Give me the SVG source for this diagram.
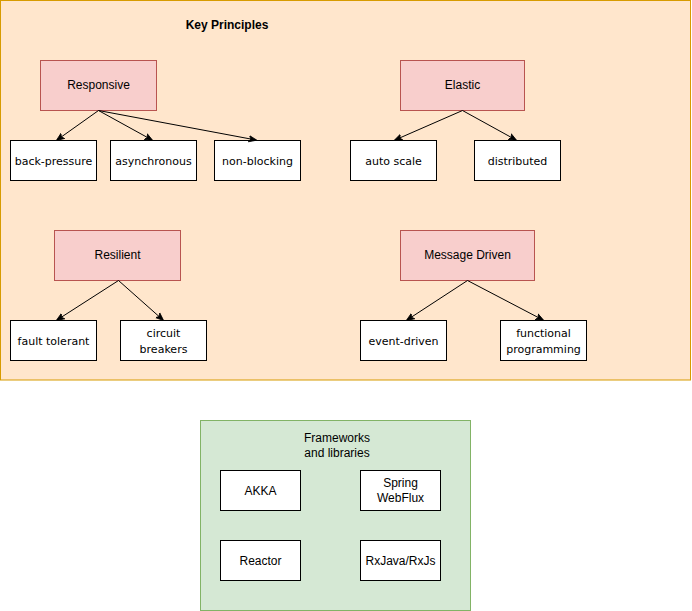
<svg xmlns="http://www.w3.org/2000/svg" width="692" height="611" viewBox="0 0 692 611">
<style>
.outer{fill:#ffe6cc;stroke:#d79b00;stroke-width:1}
.main{fill:#f8cecc;stroke:#b85450;stroke-width:1}
.leaf{fill:#ffffff;stroke:#000000;stroke-width:1}
.green{fill:#d5e8d4;stroke:#82b366;stroke-width:1}
.t{font-family:"Liberation Sans",Arial,sans-serif;font-size:12px;fill:#000;text-anchor:middle}
.c{font-family:"Comic Sans MS","DejaVu Sans",sans-serif;font-size:11px;fill:#000;text-anchor:middle}
.b{font-weight:bold}
.edge{fill:none;stroke:#000;stroke-width:1}
</style>
<defs>
<marker id="arr" viewBox="0 0 10 10" refX="9" refY="5" markerWidth="8" markerHeight="8" orient="auto" markerUnits="userSpaceOnUse">
<path d="M0,1 L10,5 L0,9 L2.5,5 Z" fill="#000" stroke="#000" stroke-width="1"/>
</marker>
</defs>
<g id="key-principles">
<rect class="outer" x="0.5" y="0.5" width="690" height="379.5"/>
<text class="t b" x="227" y="29">Key Principles</text>
</g>
<g id="responsive"><rect class="main" x="40.5" y="60.5" width="116" height="50"/><text class="t" x="98.5" y="89">Responsive</text></g>
<g id="back-pressure"><rect class="leaf" x="10.5" y="140.5" width="86" height="40"/><text class="c" x="53.5" y="164.5">back-pressure</text></g>
<g id="asynchronous"><rect class="leaf" x="110.5" y="140.5" width="86" height="40"/><text class="c" x="153.5" y="164.5">asynchronous</text></g>
<g id="non-blocking"><rect class="leaf" x="214.5" y="140.5" width="86" height="40"/><text class="c" x="257.5" y="164.5">non-blocking</text></g>
<g id="elastic"><rect class="main" x="400.5" y="60.5" width="124" height="50"/><text class="t" x="462.5" y="89">Elastic</text></g>
<g id="auto-scale"><rect class="leaf" x="350.5" y="140.5" width="86" height="40"/><text class="c" x="393.5" y="164.5">auto scale</text></g>
<g id="distributed"><rect class="leaf" x="474.5" y="140.5" width="86" height="40"/><text class="c" x="517.5" y="164.5">distributed</text></g>
<g id="resilient"><rect class="main" x="54.5" y="230.5" width="126" height="50"/><text class="t" x="117.5" y="259">Resilient</text></g>
<g id="fault-tolerant"><rect class="leaf" x="10.5" y="320.5" width="86" height="40"/><text class="c" x="53.5" y="344.5">fault tolerant</text></g>
<g id="circuit-breakers"><rect class="leaf" x="120.5" y="320.5" width="86" height="40"/><text class="c" x="163.5" y="337">circuit</text><text class="c" x="163.5" y="352.5">breakers</text></g>
<g id="message-driven"><rect class="main" x="400.5" y="230.5" width="134" height="50"/><text class="t" x="467.5" y="259">Message Driven</text></g>
<g id="event-driven"><rect class="leaf" x="360.5" y="320.5" width="86" height="40"/><text class="c" x="403.5" y="344.5">event-driven</text></g>
<g id="functional-programming"><rect class="leaf" x="500.5" y="320.5" width="86" height="40"/><text class="c" x="543.5" y="337">functional</text><text class="c" x="543.5" y="352.5">programming</text></g>
<g id="frameworks">
<rect class="green" x="200.5" y="420.5" width="270" height="190"/>
<text class="t" x="337" y="442">Frameworks</text><text class="t" x="337" y="457">and libraries</text>
</g>
<g id="akka"><rect class="leaf" x="220.5" y="470.5" width="80" height="40"/><text class="t" x="260.5" y="494.5">AKKA</text></g>
<g id="spring-webflux"><rect class="leaf" x="360.5" y="470.5" width="80" height="40"/><text class="t" x="400.5" y="487">Spring</text><text class="t" x="400.5" y="502">WebFlux</text></g>
<g id="reactor"><rect class="leaf" x="220.5" y="540.5" width="80" height="40"/><text class="t" x="260.5" y="564.5">Reactor</text></g>
<g id="rxjava"><rect class="leaf" x="360.5" y="540.5" width="80" height="40"/><text class="t" x="400.5" y="564.5">RxJava/RxJs</text></g>
<g id="connectors">
<path class="edge" marker-end="url(#arr)" d="M98.5,110.5 L57,140"/>
<path class="edge" marker-end="url(#arr)" d="M98.5,110.5 L152,140"/>
<path class="edge" marker-end="url(#arr)" d="M98.5,110.5 L256,140"/>
<path class="edge" marker-end="url(#arr)" d="M462.5,110.5 L395,140"/>
<path class="edge" marker-end="url(#arr)" d="M462.5,110.5 L516,140"/>
<path class="edge" marker-end="url(#arr)" d="M118.5,280.5 L57,320"/>
<path class="edge" marker-end="url(#arr)" d="M118.5,280.5 L163,320"/>
<path class="edge" marker-end="url(#arr)" d="M467.5,280.5 L407,320"/>
<path class="edge" marker-end="url(#arr)" d="M467.5,280.5 L543,320"/>
</g>
</svg>
